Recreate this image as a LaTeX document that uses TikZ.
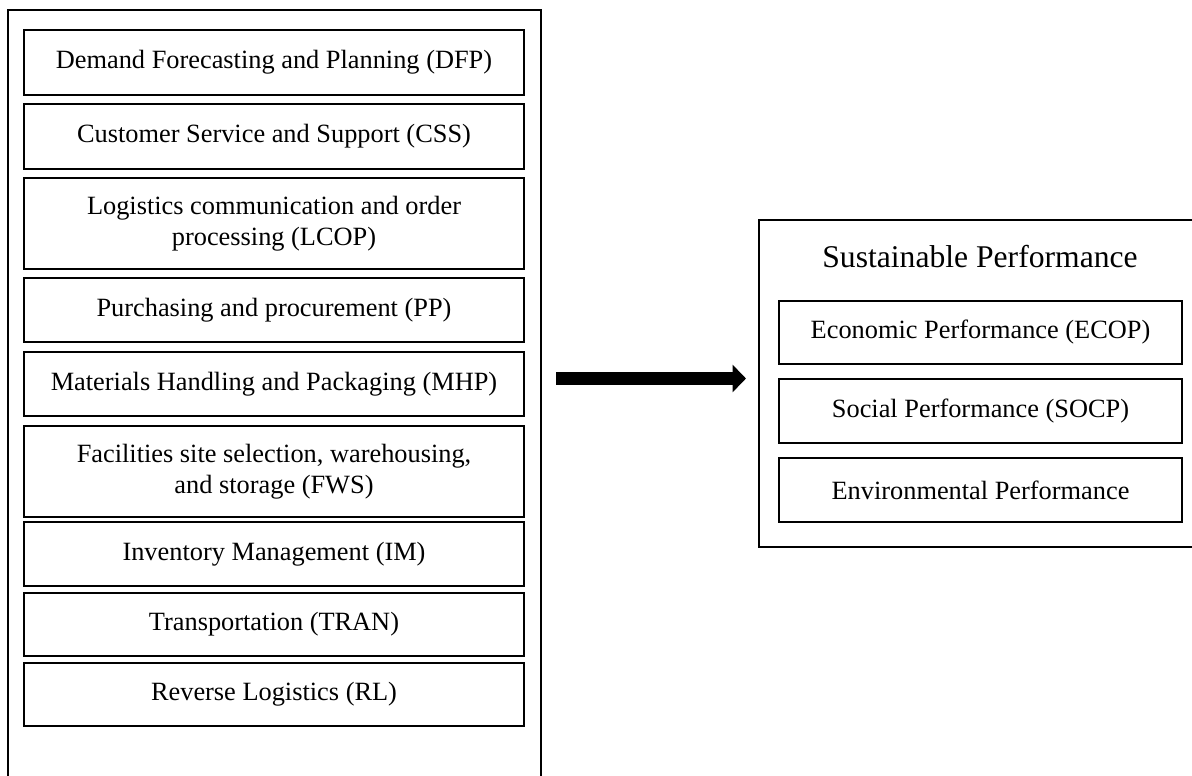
\documentclass[tikz,border=0pt]{standalone}
\usepackage{fontspec}
\setmainfont{Liberation Serif}
\usetikzlibrary{arrows.meta}

\tikzset{
	framebox/.style={draw, line width=0.65pt},
	itembox/.style={draw, line width=0.65pt, minimum width=10cm, inner sep=0pt,
		align=center, font=\fontsize{15}{17.5}\selectfont},
	perfbox/.style={itembox, minimum width=8.06cm},
	fatarrow/.style={line width=0.26cm, -{Triangle[length=0.27cm, width=0.54cm]}}
}

\begin{document}
\begin{tikzpicture}[x=0.02cm, y=-0.02cm]
		\useasboundingbox (0, 0) rectangle (1192, 776);
		\clip (0, 0) rectangle (1192, 776);

		% left frame
		\draw[framebox] (8, 10) rectangle (541, 800);
			\node[itembox, minimum height=1.3cm] (dfp) at (274, 62.5){Demand Forecasting and Planning (DFP)};
			\node[itembox, minimum height=1.3cm] (css) at (274, 136.5){Customer Service and Support (CSS)};
			\node[itembox, minimum height=1.82cm] (lcop) at (274, 223.5){Logistics communication and order\\processing (LCOP)};
			\node[itembox, minimum height=1.28cm] (pp) at (274, 310){Purchasing and procurement (PP)};
			\node[itembox, minimum height=1.28cm] (mhp) at (274, 384){Materials Handling and Packaging (MHP)};
			\node[itembox, minimum height=1.82cm] (fws) at (274, 471.5){Facilities site selection, warehousing,\\and storage (FWS)};
			\node[itembox, minimum height=1.28cm] (im) at (274, 554){Inventory Management (IM)};
			\node[itembox, minimum height=1.26cm] (tran) at (274, 624.5){Transportation (TRAN)};
			\node[itembox, minimum height=1.26cm] (rl) at (274, 694.5){Reverse Logistics (RL)};

		% right frame
		\draw[framebox] (759, 220) rectangle (1220, 547);
			\node[font=\fontsize{18}{21}\selectfont] (sp) at (980, 257){Sustainable Performance};
			\node[perfbox, minimum height=1.26cm] (ecop) at (980.5, 332.5){Economic Performance (ECOP)};
			\node[perfbox, minimum height=1.28cm] (socp) at (980.5, 411){Social Performance (SOCP)};
			\node[perfbox, minimum height=1.28cm] (envp) at (980.5, 490){Environmental Performance};

		%%%%%%%%%%%%%%%%%%%%%%%%%%%%
		\coordinate (arrs) at (556, 378.5);
		\coordinate (arre) at (746, 378.5);
		\draw[fatarrow] (arrs) -- (arre);
\end{tikzpicture}
\end{document}
